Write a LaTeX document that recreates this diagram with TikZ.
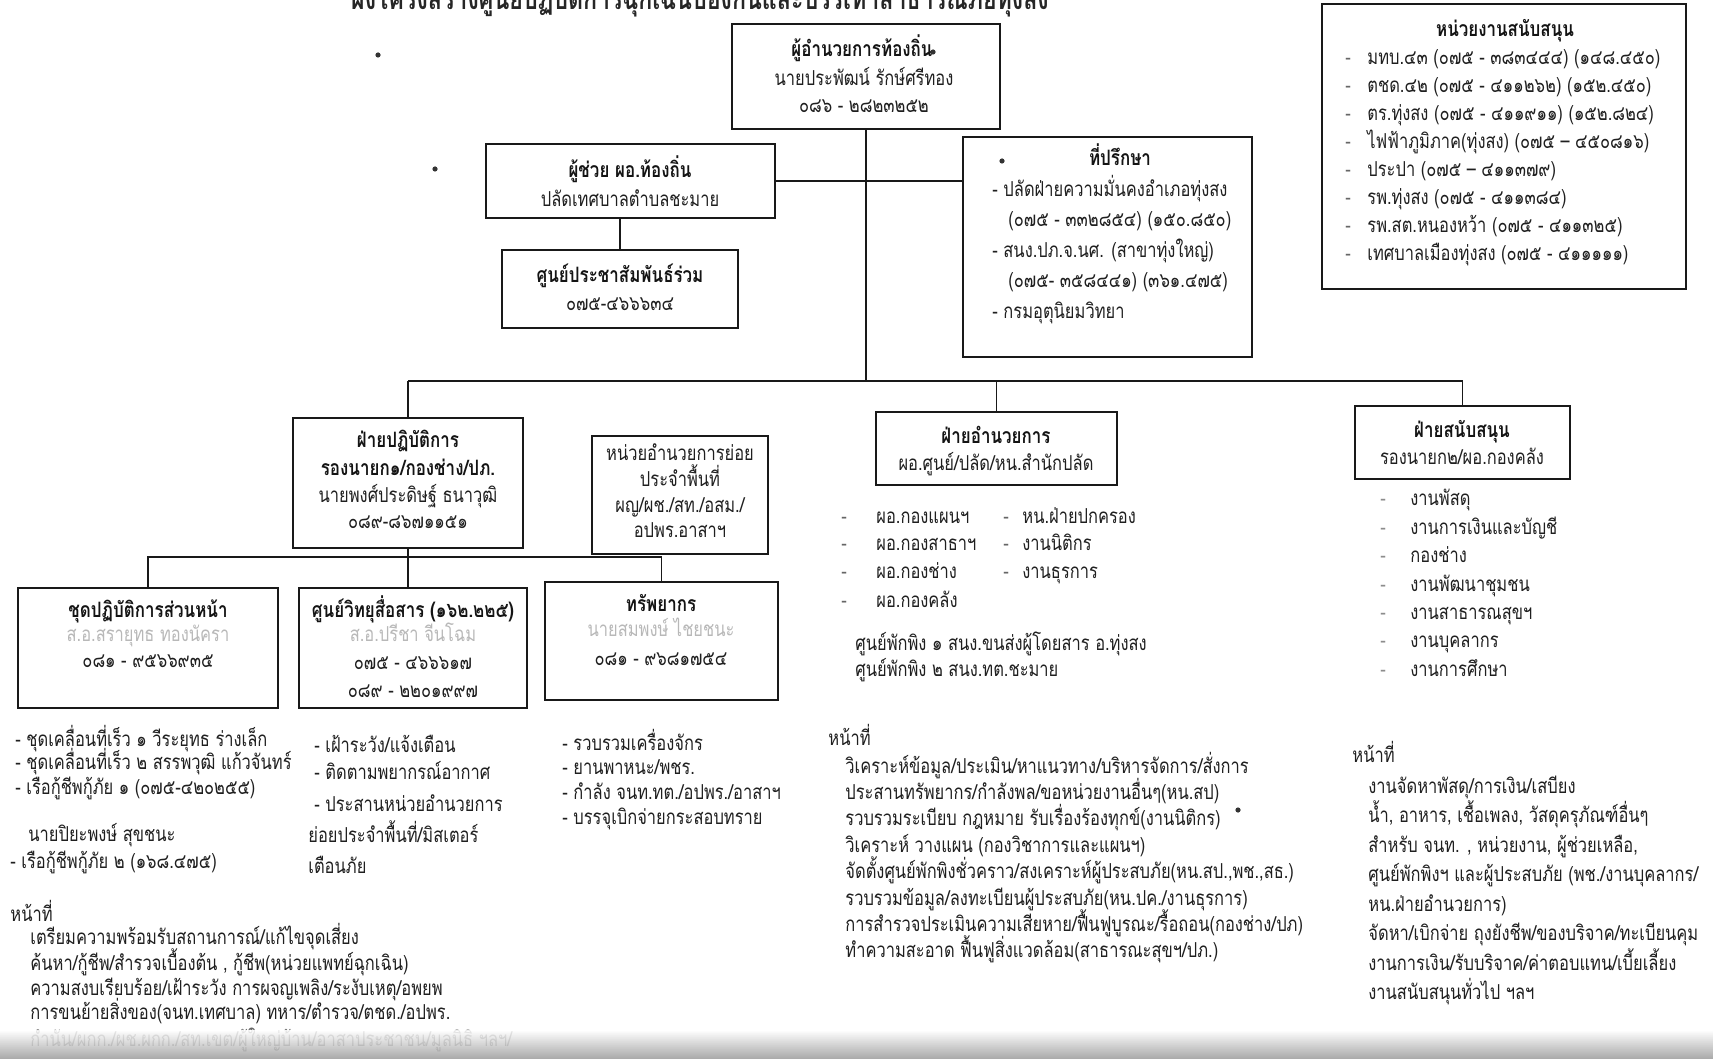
\documentclass[tikz,border=0pt]{standalone}
\usepackage{fontspec}
\setmainfont[Script=Thai, FakeStretch=0.8]{Loma}
\usetikzlibrary{fit}
\newcommand\bodyfont{\fontsize{10.3}{12}\selectfont}
\newcommand\headfont{\fontsize{10.6}{12}\selectfont\bfseries}
\begin{document}
\begin{tikzpicture}[x=0.5pt,y=-0.5pt,
  box/.style={draw=black!90, line width=1pt, inner sep=0pt},
  lt/.style={anchor=base west, inner sep=0pt, yshift=-2.5pt, font=\bodyfont, text=black!88},
  ct/.style={anchor=base, inner sep=0pt, yshift=-2.5pt, font=\bodyfont, text=black!88},
  hd/.style={anchor=base, inner sep=0pt, yshift=-2.5pt, font=\headfont, text=black!92},
  blur/.style={ct, text=black!28},
  wire/.style={draw=black!90, line width=0.9pt},
  speck/.style={fill=black!80, circle, inner sep=0pt, minimum size=2.6pt}
]
\useasboundingbox (0,0) rectangle (1713,1059);
\fill[white] (0,0) rectangle (1713,1059);

% title (cut at the top edge)
\node[anchor=base, inner sep=0pt, font=\fontsize{14.5}{16}\selectfont\bfseries, text=black!85] (title) at (700,10)
  {ผังโครงสร้างศูนย์ปฏิบัติการฉุกเฉินป้องกันและบรรเทาสาธารณภัยทุ่งสง};

% stray specks
\node[speck] (sp1) at (378,55) {};
\node[speck] (sp2) at (435,169) {};
\node[speck] (sp3) at (1238,810) {};

% ---------- boxes ----------
\node[box, fit={(732,24) (1000,129)}] (dir) {};
\node[box, fit={(486,144) (775,218)}] (asst) {};
\node[box, fit={(502,250) (738,328)}] (pr) {};
\node[box, fit={(963,137) (1252,357)}] (adv) {};
\node[box, fit={(1322,4) (1686,289)}] (supu) {};
\node[box, fit={(293,418) (523,548)}] (ops) {};
\node[box, fit={(592,436) (768,554)}] (subu) {};
\node[box, fit={(876,412) (1117,485)}] (adm) {};
\node[box, fit={(1355,406) (1570,479)}] (sprt) {};
\node[box, fit={(18,588) (278,708)}] (fwd) {};
\node[box, fit={(299,588) (527,708)}] (radio) {};
\node[box, fit={(545,582) (778,700)}] (res) {};

% ---------- connectors ----------
\coordinate (b1) at (0,381);
\coordinate (b2) at (0,557);
\draw[wire] (dir.south) -- (dir.south |- b1);
\draw[wire] (asst.east) -- (asst.east -| adv.west);
\draw[wire] (pr.north) -- (pr.north |- asst.south);
\draw[wire] (ops.north |- b1) -- (sprt.north |- b1);
\draw[wire] (ops.north) -- (ops.north |- b1);
\draw[wire] (adm.north) -- (adm.north |- b1);
\draw[wire] (sprt.north) -- (sprt.north |- b1);
\draw[wire] (ops.south) -- (ops.south |- radio.north);
\draw[wire] (fwd.north) -- (fwd.north |- b2) -- (res.north |- b2) -- (res.north);

% ---------- top box ----------
\node[hd] (dir1) at (862,52) {ผู้อำนวยการท้องถิ่น};
\node[speck] (dird) at (933,52) {};
\node[ct] (dir2) at (864,81) {นายประพัฒน์ รักษ์ศรีทอง};
\node[ct] (dir3) at (864,108) {๐๘๖ - ๒๘๒๓๒๕๒};

% assistant + PR
\node[hd] (as1) at (630,173) {ผู้ช่วย ผอ.ท้องถิ่น};
\node[ct] (as2) at (630,202) {ปลัดเทศบาลตำบลชะมาย};
\node[hd] (pr1) at (620,278) {ศูนย์ประชาสัมพันธ์ร่วม};
\node[ct] (pr2) at (620,305) {๐๗๕-๔๖๖๖๓๔};

% advisers
\node[speck] (advd) at (1002,161) {};
\node[hd] (adv0) at (1120,161) {ที่ปรึกษา};
\node[lt] (adv1) at (992,192) {- ปลัดฝ่ายความมั่นคงอำเภอทุ่งสง};
\node[lt] (adv2) at (1008,222) {(๐๗๕ - ๓๓๒๘๕๔) (๑๕๐.๘๕๐)};
\node[lt] (adv3) at (992,252) {- สนง.ปภ.จ.นศ. (สาขาทุ่งใหญ่)};
\node[lt] (adv4) at (1008,282) {(๐๗๕- ๓๕๘๔๔๑) (๓๖๑.๔๗๕)};
\node[lt] (adv5) at (992,313) {- กรมอุตุนิยมวิทยา};

% support agencies
\node[hd] (su0) at (1505,32) {หน่วยงานสนับสนุน};
\foreach \t [count=\i from 0] in {
  {มทบ.๔๓ (๐๗๕ - ๓๘๓๔๔๔) (๑๔๘.๔๕๐)},
  {ตชด.๔๒ (๐๗๕ - ๔๑๑๒๖๒) (๑๕๒.๔๕๐)},
  {ตร.ทุ่งสง (๐๗๕ - ๔๑๑๙๑๑) (๑๕๒.๘๒๔)},
  {ไฟฟ้าภูมิภาค(ทุ่งสง) (๐๗๕ – ๔๕๐๘๑๖)},
  {ประปา (๐๗๕ – ๔๑๑๓๗๙)},
  {รพ.ทุ่งสง (๐๗๕ - ๔๑๑๓๘๔)},
  {รพ.สต.หนองหว้า (๐๗๕ - ๔๑๑๓๒๕)},
  {เทศบาลเมืองทุ่งสง (๐๗๕ - ๔๑๑๑๑๑)}}
{
  \node[lt, text=black!60] (sud\i) at (1345,{60+28*\i}) {-};
  \node[lt] (su\i) at (1367,{60+28*\i}) {\t};
}

% operations
\node[hd] (op1) at (408,442) {ฝ่ายปฏิบัติการ};
\node[hd] (op2) at (408,470) {รองนายก๑/กองช่าง/ปภ.};
\node[ct] (op3) at (408,497) {นายพงศ์ประดิษฐ์ ธนาวุฒิ};
\node[ct] (op4) at (408,523) {๐๘๙-๘๖๗๑๑๕๑};

% sub unit
\node[ct] (sb1) at (680,455) {หน่วยอำนวยการย่อย};
\node[ct] (sb2) at (680,481) {ประจำพื้นที่};
\node[ct] (sb3) at (680,507) {ผญ/ผช./สท./อสม./};
\node[ct] (sb4) at (680,532) {อปพร.อาสาฯ};

% administration
\node[hd] (ad1) at (996,438) {ฝ่ายอำนวยการ};
\node[ct] (ad2) at (996,465) {ผอ.ศูนย์/ปลัด/หน.สำนักปลัด};
\foreach \y/\t [count=\i] in {518/ผอ.กองแผนฯ, 545/ผอ.กองสาธาฯ, 573/ผอ.กองช่าง, 602/ผอ.กองคลัง}
{
  \node[lt, text=black!60] (add\i) at (841,\y) {-};
  \node[lt] (adl\i) at (876,\y) {\t};
}
\foreach \y/\t [count=\i] in {518/หน.ฝ่ายปกครอง, 545/งานนิติกร, 573/งานธุรการ}
{
  \node[lt, text=black!60] (adr\i) at (1003,\y) {-};
  \node[lt] (adrt\i) at (1022,\y) {\t};
}
\node[lt] (sh1) at (855,645) {ศูนย์พักพิง ๑ สนง.ขนส่งผู้โดยสาร อ.ทุ่งสง};
\node[lt] (sh2) at (855,671) {ศูนย์พักพิง ๒ สนง.ทต.ชะมาย};

% support division
\node[hd] (sp1t) at (1462,432) {ฝ่ายสนับสนุน};
\node[ct] (sp2t) at (1462,459) {รองนายก๒/ผอ.กองคลัง};
\foreach \y/\t [count=\i] in {500/งานพัสดุ, 529/งานการเงินและบัญชี, 557/กองช่าง, 586/งานพัฒนาชุมชน, 614/งานสาธารณสุขฯ, 642/งานบุคลากร/หน.ฝ่ายอำนวยการ, 671/งานการศึกษา}
{
  \node[lt, text=black!45] (spd\i) at (1380,\y) {-};
  \node[lt] (spl\i) at (1410,\y) {\t};
}

% forward team
\node[hd] (fw1) at (148,612) {ชุดปฏิบัติการส่วนหน้า};
\node[blur] (fw2) at (148,636) {ส.อ.สรายุทธ ทองนัครา};
\node[ct] (fw3) at (148,662) {๐๘๑ - ๙๕๖๖๙๓๕};
% radio
\node[hd] (ra1) at (413,612) {ศูนย์วิทยุสื่อสาร (๑๖๒.๒๒๕)};
\node[blur] (ra2) at (413,636) {ส.อ.ปรีชา จีนโฉม};
\node[ct] (ra3) at (413,664) {๐๗๕ - ๔๖๖๖๑๗};
\node[ct] (ra4) at (413,692) {๐๘๙ - ๒๒๐๑๙๙๗};
% resources
\node[hd] (rs1) at (661,606) {ทรัพยากร};
\node[blur] (rs2) at (661,631) {นายสมพงษ์ ไชยชนะ};
\node[ct] (rs3) at (661,660) {๐๘๑ - ๙๖๘๑๗๕๔};

% lists under row 3
\node[lt] (la1) at (15,741) {- ชุดเคลื่อนที่เร็ว ๑ วีระยุทธ ร่างเล็ก};
\node[lt] (la2) at (15,764) {- ชุดเคลื่อนที่เร็ว ๒ สรรพวุฒิ แก้วจันทร์};
\node[lt] (la3) at (15,789) {- เรือกู้ชีพกู้ภัย ๑ (๐๗๕-๔๒๐๒๕๕)};
\node[lt] (la4) at (28,836) {นายปิยะพงษ์ สุขชนะ};
\node[lt] (la5) at (10,863) {- เรือกู้ชีพกู้ภัย ๒ (๑๖๘.๔๗๕)};

\node[lt] (lb1) at (314,747) {- เฝ้าระวัง/แจ้งเตือน};
\node[lt] (lb2) at (314,774) {- ติดตามพยากรณ์อากาศ};
\node[lt] (lb3) at (314,806) {- ประสานหน่วยอำนวยการ};
\node[lt] (lb4) at (308,837) {ย่อยประจำพื้นที่/มิสเตอร์};
\node[lt] (lb5) at (308,868) {เตือนภัย};

\node[lt] (lc1) at (562,745) {- รวบรวมเครื่องจักร};
\node[lt] (lc2) at (562,769) {- ยานพาหนะ/พชร.};
\node[lt] (lc3) at (562,794) {- กำลัง จนท.ทต./อปพร./อาสาฯ};
\node[lt] (lc4) at (562,819) {- บรรจุเบิกจ่ายกระสอบทราย};

% duties left
\node[lt] (dl0) at (10,916) {หน้าที่};
\node[lt] (dl1) at (30,939) {เตรียมความพร้อมรับสถานการณ์/แก้ไขจุดเสี่ยง};
\node[lt] (dl2) at (30,965) {ค้นหา/กู้ชีพ/สำรวจเบื้องต้น , กู้ชีพ(หน่วยแพทย์ฉุกเฉิน)};
\node[lt] (dl3) at (30,990) {ความสงบเรียบร้อย/เฝ้าระวัง การผจญเพลิง/ระงับเหตุ/อพยพ};
\node[lt] (dl4) at (30,1014) {การขนย้ายสิ่งของ(จนท.เทศบาล) ทหาร/ตำรวจ/ตชด./อปพร.};
\node[lt, text=black!60] (dl5) at (30,1041) {กำนัน/ผกก./ผช.ผกก./สท.เขต/ผู้ใหญ่บ้าน/อาสาประชาชน/มูลนิธิ ฯลฯ/};

% duties middle
\node[lt] (dm0) at (828,740) {หน้าที่};
\foreach \t [count=\i from 0] in {
  วิเคราะห์ข้อมูล/ประเมิน/หาแนวทาง/บริหารจัดการ/สั่งการ,
  ประสานทรัพยากร/กำลังพล/ขอหน่วยงานอื่นๆ(หน.สป),
  รวบรวมระเบียบ กฎหมาย รับเรื่องร้องทุกข์(งานนิติกร),
  วิเคราะห์ วางแผน (กองวิชาการและแผนฯ),
  {จัดตั้งศูนย์พักพิงชั่วคราว/สงเคราะห์ผู้ประสบภัย(หน.สป.,พช.,สธ.)},
  รวบรวมข้อมูล/ลงทะเบียนผู้ประสบภัย(หน.ปค./งานธุรการ),
  การสำรวจประเมินความเสียหาย/ฟื้นฟูบูรณะ/รื้อถอน(กองช่าง/ปภ),
  ทำความสะอาด ฟื้นฟูสิ่งแวดล้อม(สาธารณะสุขฯ/ปภ.)}
{
  \node[lt] (dm\i x) at (845,{768+26.4*\i}) {\t};
}

% duties right
\node[lt] (dr0) at (1352,757) {หน้าที่};
\foreach \t [count=\i from 0] in {
  งานจัดหาพัสดุ/การเงิน/เสบียง,
  {น้ำ, อาหาร, เชื้อเพลง, วัสดุครุภัณฑ์อื่นๆ},
  {สำหรับ จนท. , หน่วยงาน, ผู้ช่วยเหลือ,},
  ศูนย์พักพิงฯ และผู้ประสบภัย (พช./งานบุคลากร/,
  หน.ฝ่ายอำนวยการ),
  จัดหา/เบิกจ่าย ถุงยังชีพ/ของบริจาค/ทะเบียนคุม,
  งานการเงิน/รับบริจาค/ค่าตอบแทน/เบี้ยเลี้ยง,
  งานสนับสนุนทั่วไป ฯลฯ}
{
  \node[lt] (drl\i) at (1368,{788+29.5*\i}) {\t};
}

% scan shadow at the bottom
\shade[top color=white, bottom color=black!40, opacity=0.85] (0,1030) rectangle (1713,1059);
\end{tikzpicture}
\end{document}
